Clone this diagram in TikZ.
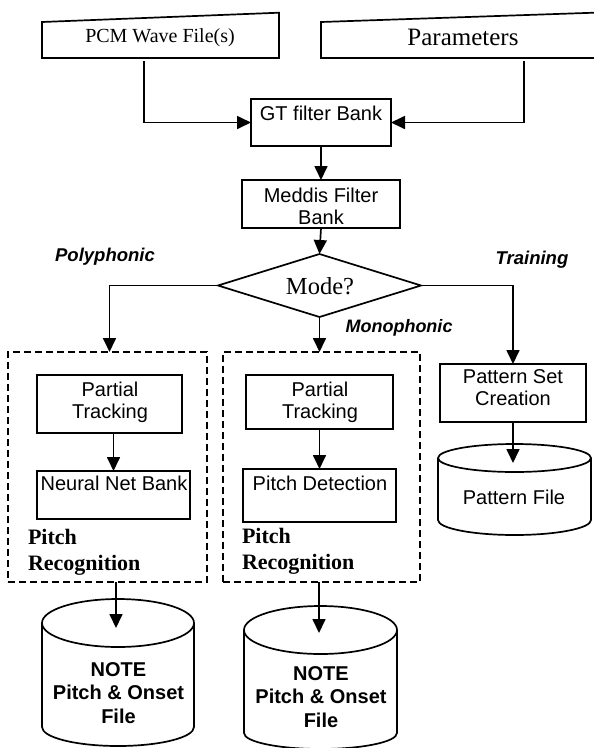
\documentclass[tikz,border=0pt]{standalone}
\usepackage{fontspec}
\setmainfont{Liberation Serif}
\setsansfont{Liberation Sans}
\usetikzlibrary{arrows.meta,shapes.geometric,calc}
\begin{document}
\begin{tikzpicture}[x=1pt,y=-1pt,
  every node/.style={inner sep=0pt, outer sep=0pt},
  proc/.style={draw, line width=1.7pt},
  dbox/.style={draw, dash pattern=on 7pt off 4pt, line width=1.4pt},
  lbl/.style={font=\sffamily\fontsize{20}{22}\selectfont, align=center},
  serif/.style={font=\rmfamily\fontsize{20}{24}\selectfont},
  modelbl/.style={font=\sffamily\bfseries\itshape\fontsize{18.5}{22}\selectfont},
  reclbl/.style={font=\rmfamily\bfseries\fontsize{22}{26}\selectfont, align=left, anchor=west},
  notelbl/.style={font=\sffamily\bfseries\fontsize{20}{23.5}\selectfont, align=center},
  arr/.style={line width=1.7pt, -{Triangle[length=14pt,width=13pt]}}
]
\useasboundingbox (0,0) rectangle (594,748);

% inputs
\draw[proc] (42,22) -- (279,12.7) -- (279,58) -- (42,58) -- cycle;
\node[serif] (pcm) at (160,38) {PCM Wave File(s)};
\draw[proc] (321,22) -- (600,12.5) -- (600,58) -- (321,58) -- cycle;
\node[font=\rmfamily\fontsize{25}{30}\selectfont] (par) at (463,37) {Parameters};
\coordinate (pcmout) at (144,61);
\coordinate (parout) at (524,61);

% filter banks
\node[proc, minimum width=140pt, minimum height=47pt] (gt) at (321,122.5) {};
\node[lbl] (gtt) at (321,113) {GT filter Bank};
\node[proc, minimum width=158pt, minimum height=48pt] (md) at (321,204) {};
\node[lbl] (mdt) at (321,206) {Meddis Filter\\Bank};

% decision
\node[draw, diamond, line width=1.7pt, aspect=3.22, minimum width=203pt, minimum height=63pt] (mode) at (319.5,285.5) {};
\node[font=\rmfamily\fontsize{24.5}{28}\selectfont] (modet) at (320,286) {Mode?};

\node[modelbl] (poly) at (105,257) {Polyphonic};
\node[modelbl] (train) at (532,260) {Training};
\node[modelbl, font=\sffamily\bfseries\itshape\fontsize{18}{22}\selectfont] (mono) at (399,328) {Monophonic};

% pitch recognition groups
\node[dbox, minimum width=199pt, minimum height=230pt] (pr1) at (107.5,467) {};
\node[dbox, minimum width=197pt, minimum height=230pt] (pr2) at (321.5,467) {};

\node[proc, minimum width=145pt, minimum height=58pt] (pt1) at (109.5,404) {};
\node[lbl] (pt1t) at (110,402) {Partial\\Tracking};
\node[proc, minimum width=153pt, minimum height=48pt] (nnb) at (113.5,495) {};
\node[lbl] (nnbt) at (114,483) {Neural Net Bank};
\node[reclbl] (pr1t) at (28,552) {Pitch\\Recognition};

\node[proc, minimum width=147pt, minimum height=54pt] (pt2) at (319.5,402) {};
\node[lbl] (pt2t) at (320,402) {Partial\\Tracking};
\node[proc, minimum width=153pt, minimum height=53pt] (pd) at (319.5,495.5) {};
\node[lbl] (pdt) at (320,483) {Pitch Detection};
\node[reclbl] (pr2t) at (242,551.5) {Pitch\\Recognition};

% training
\node[proc, minimum width=146pt, minimum height=58pt] (ps) at (513,393) {};
\node[lbl] (pst) at (513,388) {Pattern Set\\Creation};

% cylinders
\draw[proc] (42,623) -- (42,727) arc[start angle=180,end angle=360,x radius=76pt,y radius=19pt] -- (194,623);
\draw[proc] (118,623) ellipse [x radius=76pt, y radius=24pt];
\node[notelbl] (n1t) at (118.5,693) {NOTE\\Pitch \& Onset\\File};

\draw[proc] (244,630) -- (244,733) arc[start angle=180,end angle=360,x radius=76.5pt,y radius=16pt] -- (397,630);
\draw[proc] (320.5,630) ellipse [x radius=76.5pt, y radius=24pt];
\node[notelbl] (n2t) at (321,697) {NOTE\\Pitch \& Onset\\File};

\draw[proc] (438,458) -- (438,520) arc[start angle=180,end angle=360,x radius=76.5pt,y radius=15pt] -- (591,458);
\draw[proc] (514.5,458) ellipse [x radius=76.5pt, y radius=14pt];
\node[lbl] (pft) at (514,497) {Pattern File};

\coordinate (c1in) at (116,628);
\coordinate (c2in) at (319,633);
\coordinate (c3in) at (513,463);

% connectors
\draw[arr] (pcmout) |- (gt.west);
\draw[arr] (parout) |- (gt.east);
\draw[arr] (gt.south) -- (md.north);
\draw[arr] (md.south) -- (mode.north);
\draw[arr] (mode.west) -| (pt1.north |- pr1.north);
\draw[arr] (mode.south) -- (mode.south |- pr2.north);
\draw[arr] (mode.east) -| (ps.north);
\draw[arr] (nnb.north |- pt1.south) -- (nnb.north);
\draw[arr] (pt2.south) -- (pd.north);
\draw[arr] (ps.south) -- (c3in);
\draw[arr] (pr1.south -| c1in) -- (c1in);
\draw[arr] (pr2.south -| c2in) -- (c2in);
\end{tikzpicture}
\end{document}
